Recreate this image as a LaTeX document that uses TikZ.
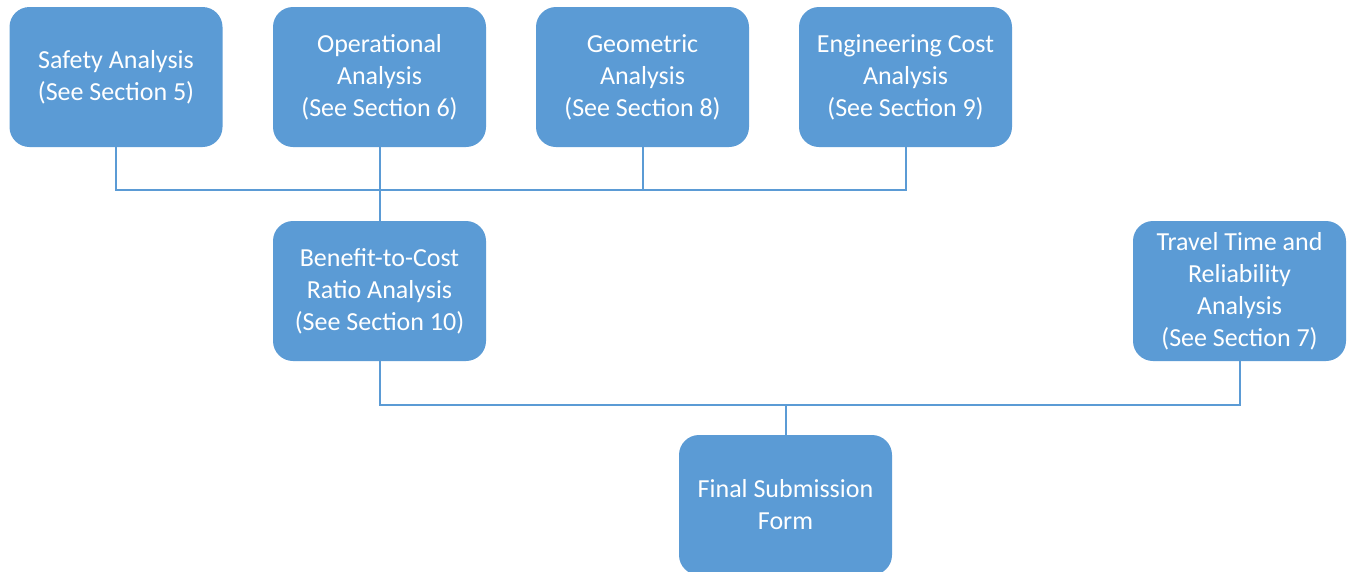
\documentclass[tikz,border=0pt]{standalone}
\usepackage{fontspec}
\setmainfont{Carlito}
\definecolor{boxblue}{HTML}{5B9BD5}
\definecolor{lineblue}{HTML}{5B9BD5}
\begin{document}
\begin{tikzpicture}[x=1pt,y=1pt,
  box/.style={fill=boxblue,draw=none,rounded corners=20pt,minimum width=213pt,minimum height=140pt,
    text=white,align=center,inner sep=0pt,font=\fontsize{26}{32}\selectfont},
  conn/.style={draw=lineblue,line width=2pt}]
\useasboundingbox (0,0) rectangle (1348,-571);
\node[box] (s) at (116,-77) {Safety Analysis\\(See Section 5)};
\node[box] (o) at (379.5,-77) {Operational\\Analysis\\(See Section 6)};
\node[box] (g) at (642.5,-77) {Geometric\\Analysis\\(See Section 8)};
\node[box] (e) at (905.5,-77) {Engineering Cost\\Analysis\\(See Section 9)};
\node[box] (b) at (379.5,-291) {Benefit-to-Cost\\Ratio Analysis\\(See Section 10)};
\node[box] (t) at (1239.5,-291) {Travel Time and\\Reliability\\Analysis\\(See Section 7)};
\node[box] (f) at (785.5,-505) {Final Submission\\Form};
\coordinate (j1) at (379.5,-190);
\coordinate (j2) at (785.5,-405);
\draw[conn] (s.south) |- (j1) -| (e.south);
\draw[conn] (o.south) -- (b.north);
\draw[conn] (g.south) -- (g.south |- j1);
\draw[conn] (b.south) |- (j2) -| (t.south);
\draw[conn] (j2) -- (f.north);
\end{tikzpicture}
\end{document}
